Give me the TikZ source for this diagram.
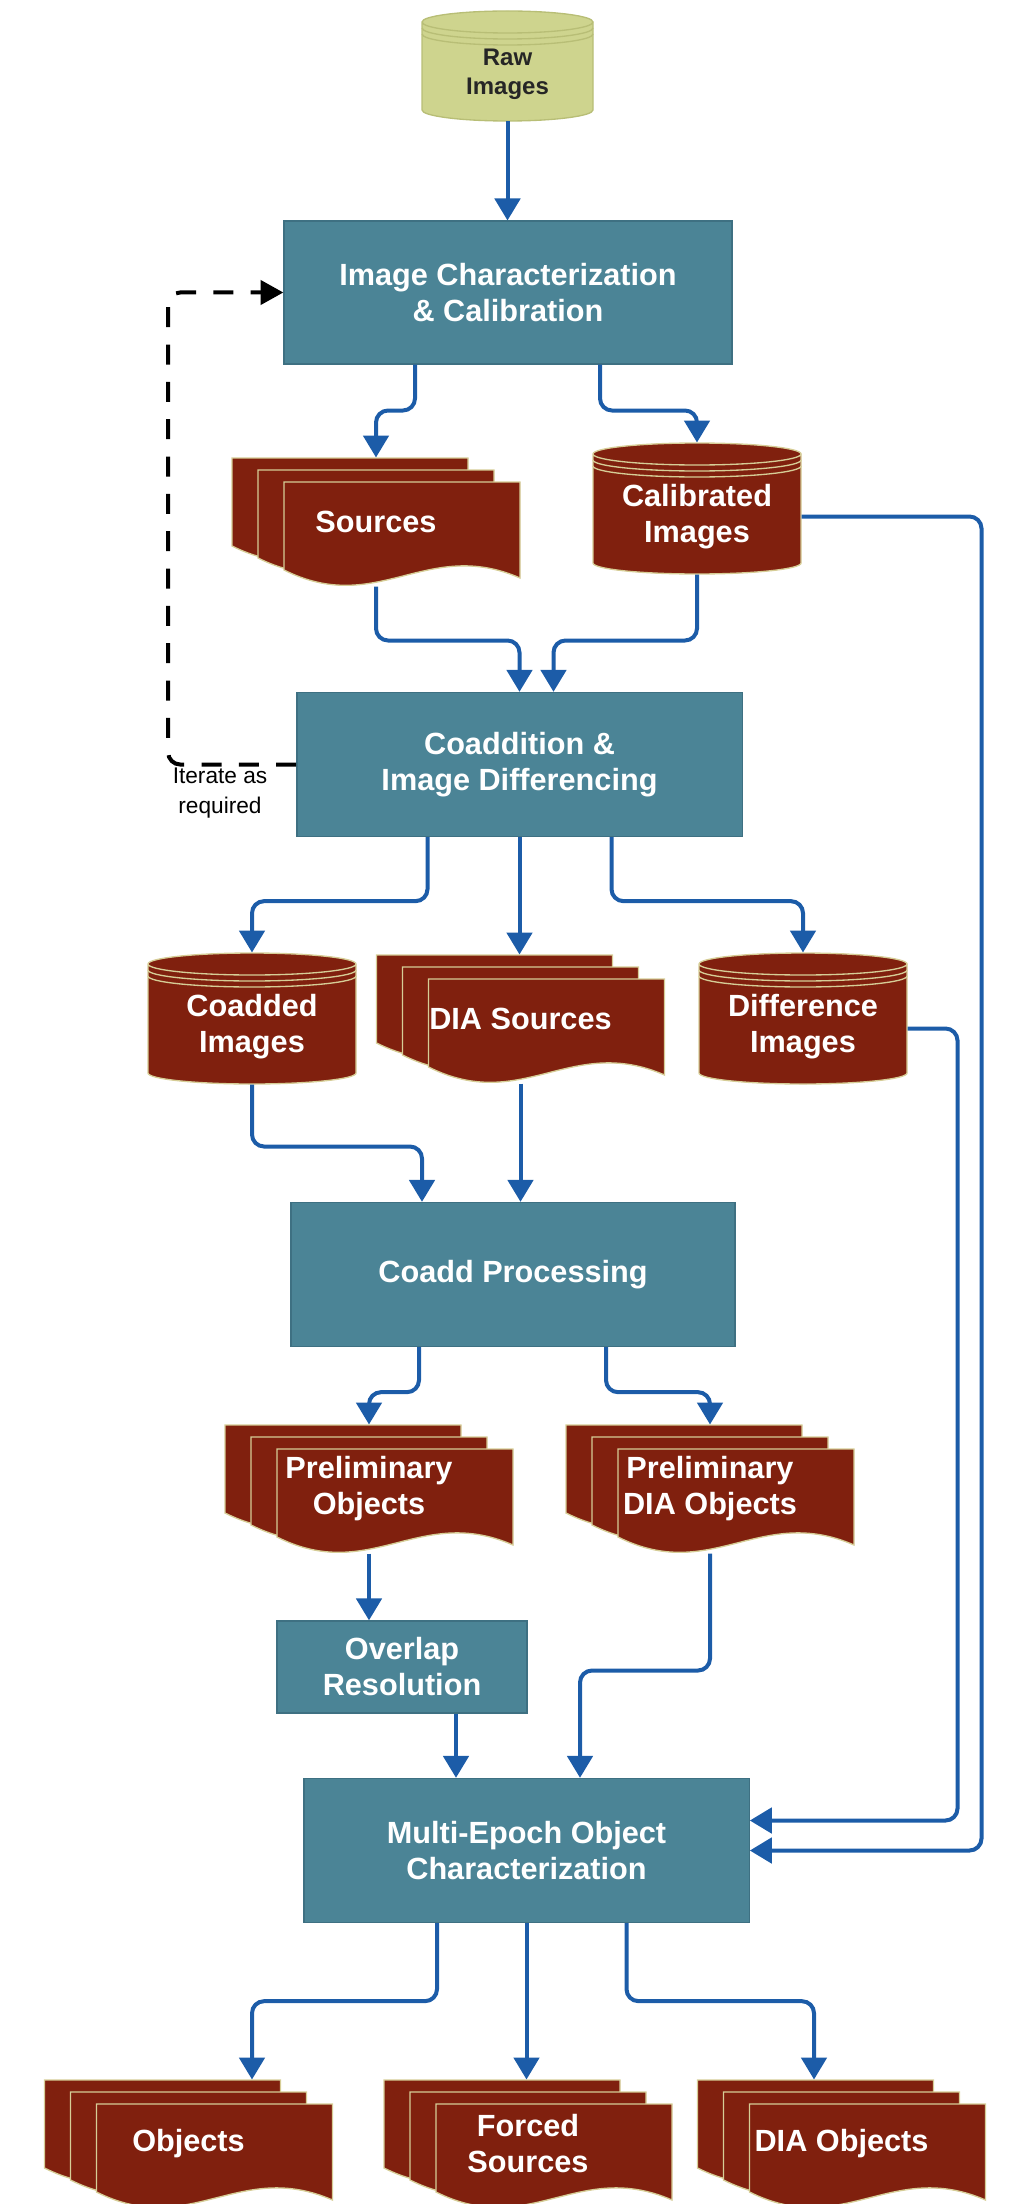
\documentclass[tikz,border=0pt]{standalone}
\usepackage{fontspec}
\setmainfont{Liberation Sans}
\usetikzlibrary{arrows.meta,calc}

\definecolor{procfill}{RGB}{75,132,150}
\definecolor{procline}{RGB}{62,112,130}
\definecolor{datafill}{RGB}{128,32,14}
\definecolor{dataline}{RGB}{214,205,150}
\definecolor{rawfill}{RGB}{206,212,142}
\definecolor{rawline}{RGB}{184,190,118}
\definecolor{flowblue}{RGB}{28,92,168}

\tikzset{every picture/.style={line width=0.75pt},
  procbox/.style={draw=procline,fill=procfill,line width=1pt,minimum width=334pt,minimum height=108pt,inner sep=0pt,align=center,text=white,font=\bfseries\fontsize{23}{27}\selectfont},
  docpage/.style={draw=dataline,fill=datafill,line width=1pt},
  doctext/.style={minimum width=216pt,minimum height=96pt,inner sep=0pt,align=center,text=white,font=\bfseries\fontsize{23}{27}\selectfont},
  cylred/.style={draw=dataline,fill=datafill,line width=1pt},
  cylraw/.style={draw=rawline,fill=rawfill,line width=1pt},
  rawtext/.style={align=center,text=black!85,font=\bfseries\fontsize{18}{22}\selectfont},
  flow/.style={draw=flowblue,line width=3pt,rounded corners=9pt,-{Triangle[length=16.5pt,width=19pt]}},
  iterline/.style={draw=black,line width=3pt,dash pattern=on 15pt off 13pt,rounded corners=9pt,-{Triangle[length=17pt,width=18pt]}},
  itertext/.style={align=center,font=\fontsize{17}{23}\selectfont}
}

% database can: name, centre, half width, half height, shape style, text style, text
\newcommand{\dbcyl}[7]{%
  \begin{scope}[shift={#2}]
    \draw[#5] (#3,{-#4+11}) -- (#3,{#4-11}) .. controls (#3,{#4-5}) and ({0.55*#3},#4) .. (0,#4) .. controls ({-0.55*#3},#4) and (-#3,{#4-5}) .. (-#3,{#4-11}) -- (-#3,{-#4+11}) .. controls (-#3,{-#4+5}) and ({-0.55*#3},-#4) .. (0,-#4) .. controls ({0.55*#3},-#4) and (#3,{-#4+5}) .. (#3,{-#4+11}) .. controls (#3,{-#4+17}) and ({0.55*#3},{-#4+22}) .. (0,{-#4+22}) .. controls ({-0.55*#3},{-#4+22}) and (-#3,{-#4+17}) .. (-#3,{-#4+11}) ;
    \foreach \dy in {6,12}
      \draw[#5,fill=none] (-#3,{-#4+11+\dy}) .. controls (-#3,{-#4+17+\dy}) and ({-0.55*#3},{-#4+22+\dy}) .. (0,{-#4+22+\dy}) .. controls ({0.55*#3},{-#4+22+\dy}) and (#3,{-#4+17+\dy}) .. (#3,{-#4+11+\dy}) ;
    \node[#6] (#1-t) at (0,8) {#7};
  \end{scope}
  \node[minimum width={1.5*#3 pt},minimum height={1.5*#4 pt},inner sep=0pt] (#1) at #2 {};
}

% stack of three pages: name, centre, text
\newcommand{\docstack}[3]{%
  \begin{scope}[shift={#2}]
    \foreach \pg in {2,1,0}{
      \pgfmathsetmacro{\px}{-92-26*\pg}
      \pgfmathsetmacro{\py}{-40-12*\pg}
      \draw[docpage] (\px,\py) -- ({\px+236},\py) -- ({\px+236},{\py+96}) .. controls ({\px+142},{\py+55}) and ({\px+94},{\py+135}) .. (\px,{\py+88}) -- cycle ;
    }
  \end{scope}
  \node[doctext] (#1) at #2 {#3};
}

\begin{document}
\begin{tikzpicture}[x=0.75pt,y=0.75pt,yscale=-1,xscale=1]
	\useasboundingbox (0,0) rectangle (1025,2204);

	%Shape: Can [raw images]
	\dbcyl{raw}{(507.5,66)}{85.5}{55}{cylraw}{rawtext}{Raw\\Images}
	%Shape: Rectangle
	\node[procbox,minimum width=336pt,minimum height=107pt] (imgchar) at (508,292.5) {Image Characterization\\\& Calibration};
	%Shape: Pages
	\docstack{src}{(376,522)}{Sources}
	%Shape: Can
	\dbcyl{cal}{(697,508.5)}{104}{65.5}{cylred}{doctext}{Calibrated\\Images}
	%Shape: Rectangle
	\node[procbox] (coadd) at (519.5,764.5) {Coaddition \&\\Image Differencing};
	% Text Node
	\node[itertext] (iter) at (220,793) {Iterate as\\required};
	%Shape: Can
	\dbcyl{coadded}{(252,1018.5)}{104}{65.5}{cylred}{doctext}{Coadded\\Images}
	%Shape: Pages
	\docstack{diasrc}{(520.5,1019)}{DIA Sources}
	%Shape: Can
	\dbcyl{diff}{(803,1018.5)}{104}{65.5}{cylred}{doctext}{Difference\\Images}
	%Shape: Rectangle
	\node[procbox,minimum width=333pt] (coaddproc) at (513,1274.5) {Coadd Processing};
	%Shape: Pages
	\docstack{po}{(369,1489)}{Preliminary\\Objects}
	\docstack{pdo}{(710,1489)}{Preliminary\\DIA Objects}
	%Shape: Rectangle
	\node[procbox,minimum width=187.5pt,minimum height=69pt] (overlap) at (402,1667) {Overlap\\Resolution};
	\node[procbox] (mepoch) at (526.5,1850.5) {Multi-Epoch Object\\Characterization};
	%Shape: Pages
	\docstack{obj}{(188.5,2144)}{Objects}
	\docstack{forced}{(528,2144)}{Forced\\Sources}
	\docstack{diaobj}{(841.5,2144)}{DIA Objects}

	%Straight Lines
	\draw[flow] (raw.south) -- (raw.south |- imgchar.north);
	\draw[flow] ($(imgchar.south)+(-93,0)$) -- ++(0,46) -| (src.north);
	\draw[flow] ($(imgchar.south)+(92,0)$) -- ++(0,46) -| (cal.north);
	\draw[flow] (src.south) -- ++(0,54) -| (coadd.north);
	\draw[flow] (cal.south) -- ++(0,66) -| ($(coadd.north)+(34,0)$);
	\draw[iterline] (coadd.west) -- ++(-128,0) |- (imgchar.west);
	\draw[flow] ($(cal.east)+(0,8)$) -- ++(180,0) |- (mepoch.east);
	\draw[flow] ($(coadd.south)+(-92,0)$) -- ++(0,64) -| (coadded.north);
	\draw[flow] (coadd.south) -- (coadd.south |- diasrc.north);
	\draw[flow] ($(coadd.south)+(92,0)$) -- ++(0,64) -| (diff.north);
	\draw[flow] ($(diff.east)+(0,10)$) -- ++(50,0) |- ($(mepoch.east)+(0,-30)$);
	\draw[flow] (coadded.south) -- ++(0,62) -| ($(coaddproc.north)+(-91,0)$);
	\draw[flow] (diasrc.south) -- (diasrc.south |- coaddproc.north);
	\draw[flow] ($(coaddproc.south)+(-94,0)$) -- ++(0,45) -| (po.north);
	\draw[flow] ($(coaddproc.south)+(93,0)$) -- ++(0,45) -| (pdo.north);
	\draw[flow] (po.south) -- (po.south |- overlap.north);
	\draw[flow] ($(overlap.south)+(54,0)$) -- ($(mepoch.north)+(-70.5,0)$);
	\draw[flow] (pdo.south) -- ++(0,117) -| ($(mepoch.north)+(53.5,0)$);
	\draw[flow] ($(mepoch.south)+(-89.5,0)$) -- ++(0,78) -| ($(obj.north)+(63.5,0)$);
	\draw[flow] (mepoch.south) -- (mepoch.south |- forced.north);
	\draw[flow] ($(mepoch.south)+(100,0)$) -- ++(0,78) -| ($(diaobj.north)+(-27.5,0)$);

\end{tikzpicture}
\end{document}
